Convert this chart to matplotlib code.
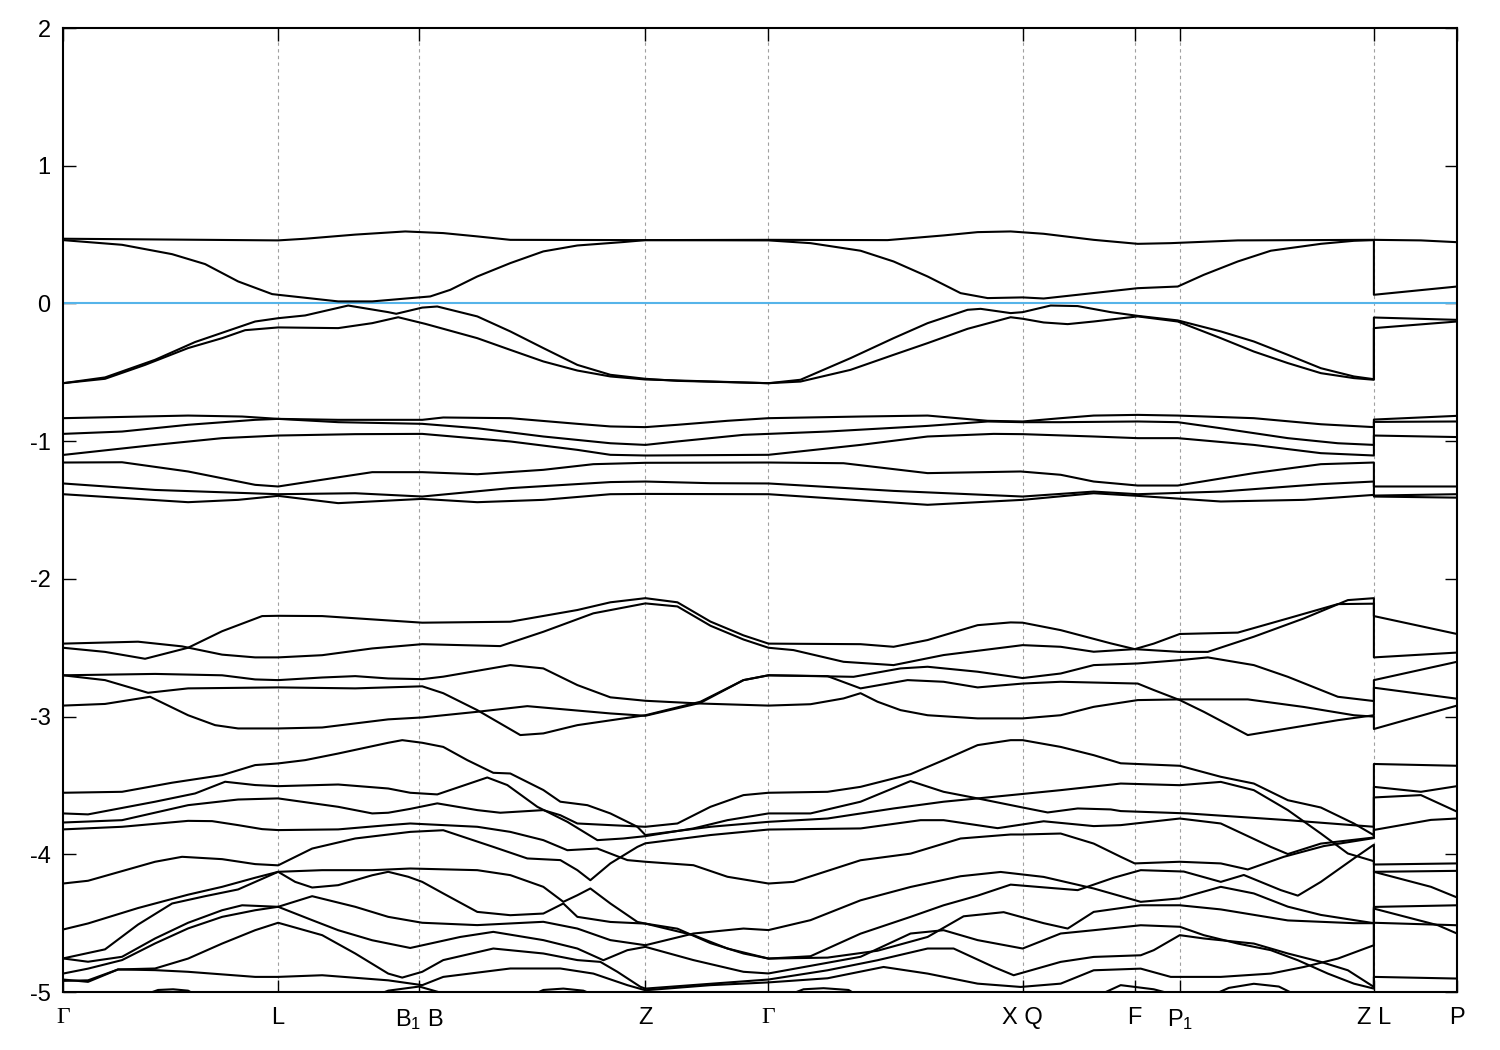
import matplotlib
matplotlib.use("Agg")
import matplotlib.pyplot as plt

plt.rcParams['font.family'] = ['Liberation Sans', 'DejaVu Sans']
plt.rcParams['mathtext.fontset'] = 'custom'
plt.rcParams['mathtext.rm'] = 'Liberation Sans'
plt.rcParams['mathtext.it'] = 'Liberation Sans'
plt.rcParams['axes.unicode_minus'] = False

# high symmetry points along the k path
kpts = [0, 215, 356, 582, 705, 959, 1071, 1116, 1310, 1393]
klabels = ['Γ', 'L', 'B$_1$ B', 'Z', 'Γ', 'X Q', 'F', 'P$_1$', 'Z L', 'P']

# bands near the Fermi level (k, E in eV)
band_t1 = [(0, .47), (215, .458), (242, .47), (292, .50), (342, .523), (380, .511), (414, .487), (447, .462),
           (582, .46), (705, .462), (824, .46), (880, .494), (914, .518), (947, .523), (980, .506), (1030, .462),
           (1074, .433), (1107, .438), (1174, .458), (1310, .462), (1357, .458), (1393, .445)]
band_t2 = [(0, .46), (59, .426), (109, .358), (142, .286), (175, .16), (209, .068), (215, .063), (275, .015),
           (309, .015), (359, .046), (367, .051), (387, .099), (414, .196), (447, .293), (480, .378), (514, .421),
           (560, .446), (582, .46), (705, .458), (747, .438), (797, .383), (830, .305), (864, .196), (897, .075),
           (924, .039), (959, .044), (980, .036), (1014, .063), (1074, .111), (1114, .123), (1140, .208),
           (1174, .305), (1207, .383), (1257, .433), (1290, .455), (1310, .46), (1310, .063), (1393, .123)]
band_v1 = [(0, -.579), (42, -.537), (92, -.409), (132, -.28), (165, -.198), (192, -.131), (215, -.107),
           (242, -.087), (285, -.015), (325, -.063), (333, -.075), (359, -.03), (374, -.022), (414, -.094),
           (447, -.203), (480, -.324), (514, -.446), (547, -.518), (582, -.547), (614, -.562), (705, -.579),
           (737, -.554), (787, -.397), (830, -.252), (864, -.143), (904, -.046), (917, -.039), (947, -.07),
           (959, -.063), (987, -.015), (1014, -.019), (1047, -.063), (1074, -.09), (1114, -.123), (1157, -.203),
           (1190, -.276), (1224, -.373), (1257, -.47), (1290, -.53), (1310, -.55), (1310, -.102), (1393, -.119)]
band_v2 = [(0, -.579), (42, -.547), (82, -.446), (125, -.324), (159, -.252), (182, -.194), (215, -.174),
           (275, -.179), (309, -.143), (335, -.10), (362, -.148), (414, -.252), (447, -.337), (480, -.421),
           (514, -.487), (547, -.53), (582, -.552), (705, -.579), (737, -.567), (787, -.482), (830, -.373),
           (864, -.288), (904, -.184), (947, -.10), (959, -.111), (980, -.138), (1004, -.15), (1030, -.131),
           (1074, -.094), (1114, -.131), (1157, -.252), (1190, -.349), (1224, -.433), (1257, -.506),
           (1290, -.542), (1310, -.554), (1310, -.179), (1393, -.131)]

# -0.8 .. -1.5 eV group
band_m1 = [(0, -.833), (125, -.814), (179, -.821), (215, -.838), (275, -.845), (359, -.845), (380, -.828),
           (447, -.833), (514, -.874), (547, -.893), (582, -.898), (614, -.881), (664, -.852), (705, -.833),
           (797, -.821), (864, -.814), (924, -.852), (959, -.857), (997, -.833), (1030, -.814), (1074, -.809),
           (1114, -.814), (1190, -.833), (1257, -.877), (1310, -.898), (1310, -.843), (1393, -.816)]
band_m2 = [(0, -.947), (59, -.93), (125, -.881), (192, -.845), (215, -.838), (275, -.862), (359, -.874),
           (414, -.906), (480, -.966), (547, -1.015), (582, -1.027), (614, -1.002), (680, -.954), (705, -.947),
           (764, -.93), (864, -.889), (924, -.857), (959, -.862), (997, -.862), (1074, -.857), (1114, -.862),
           (1157, -.906), (1224, -.978), (1274, -1.015), (1310, -1.027), (1310, -.86), (1393, -.857)]
band_m3 = [(0, -1.10), (92, -1.027), (159, -.978), (215, -.959), (292, -.949), (359, -.947), (447, -1.002),
           (514, -1.063), (547, -1.099), (582, -1.104), (705, -1.099), (797, -1.027), (864, -.966), (930, -.947),
           (959, -.949), (1030, -.966), (1074, -.978), (1114, -.978), (1190, -1.027), (1257, -1.087),
           (1310, -1.104), (1310, -.959), (1393, -.97)]
band_m4 = [(0, -1.155), (59, -1.153), (125, -1.22), (192, -1.317), (215, -1.329), (259, -1.28), (309, -1.225),
           (359, -1.225), (414, -1.24), (480, -1.208), (530, -1.167), (582, -1.157), (705, -1.155), (780, -1.16),
           (864, -1.232), (957, -1.22), (997, -1.244), (1030, -1.293), (1074, -1.322), (1114, -1.322),
           (1190, -1.232), (1257, -1.167), (1310, -1.155), (1310, -1.329), (1393, -1.329)]
band_m5 = [(0, -1.307), (92, -1.354), (215, -1.385), (292, -1.378), (359, -1.402), (447, -1.341), (547, -1.297),
           (582, -1.293), (647, -1.305), (705, -1.307), (830, -1.361), (959, -1.402), (1030, -1.366),
           (1074, -1.385), (1157, -1.366), (1257, -1.312), (1310, -1.293), (1310, -1.395), (1393, -1.385)]
band_m6 = [(0, -1.385), (125, -1.443), (175, -1.426), (215, -1.397), (275, -1.45), (359, -1.419), (414, -1.443),
           (480, -1.426), (547, -1.385), (582, -1.383), (705, -1.385), (864, -1.462), (959, -1.426),
           (1030, -1.378), (1074, -1.397), (1157, -1.438), (1240, -1.426), (1310, -1.390), (1310, -1.402),
           (1393, -1.41)]

# -2.1 .. -3.1 eV group
band_g1 = [(0, -2.50), (42, -2.53), (82, -2.58), (125, -2.50), (159, -2.38), (199, -2.27), (215, -2.268),
           (259, -2.27), (359, -2.318), (447, -2.311), (514, -2.226), (547, -2.17), (582, -2.14), (614, -2.17),
           (647, -2.31), (680, -2.41), (705, -2.47), (797, -2.474), (830, -2.493), (864, -2.444), (914, -2.336),
           (947, -2.316), (959, -2.318), (997, -2.372), (1047, -2.468), (1071, -2.51), (1090, -2.47),
           (1116, -2.40), (1174, -2.39), (1224, -2.287), (1274, -2.183), (1310, -2.18), (1310, -2.57),
           (1393, -2.535)]
band_g2 = [(0, -2.47), (75, -2.456), (119, -2.49), (159, -2.55), (192, -2.57), (215, -2.57), (259, -2.554),
           (309, -2.505), (359, -2.474), (437, -2.488), (480, -2.384), (530, -2.25), (582, -2.178), (614, -2.20),
           (647, -2.34), (680, -2.44), (705, -2.50), (730, -2.517), (780, -2.602), (830, -2.626), (880, -2.553),
           (959, -2.481), (997, -2.493), (1030, -2.529), (1071, -2.51), (1116, -2.53), (1144, -2.53),
           (1190, -2.42), (1240, -2.287), (1284, -2.154), (1310, -2.14), (1310, -2.27), (1393, -2.40)]
band_h1 = [(0, -2.70), (92, -2.69), (159, -2.70), (192, -2.73), (215, -2.735), (259, -2.716), (292, -2.706),
           (325, -2.723), (359, -2.728), (380, -2.71), (447, -2.626), (480, -2.65), (514, -2.771), (547, -2.86),
           (582, -2.885), (637, -2.905), (705, -2.92), (747, -2.91), (780, -2.868), (797, -2.83), (814, -2.892),
           (837, -2.953), (864, -2.99), (914, -3.013), (959, -3.013), (997, -2.99), (1030, -2.929),
           (1074, -2.88), (1116, -2.875), (1184, -2.875), (1240, -2.93), (1290, -2.99), (1310, -3.0),
           (1310, -3.09), (1393, -2.92)]
band_h2 = [(0, -2.70), (42, -2.735), (85, -2.827), (125, -2.795), (215, -2.788), (292, -2.795), (359, -2.78),
           (380, -2.83), (414, -2.953), (457, -3.134), (480, -3.122), (514, -3.062), (582, -2.99), (637, -2.892),
           (680, -2.735), (705, -2.70), (764, -2.706), (797, -2.795), (844, -2.735), (880, -2.747),
           (914, -2.788), (959, -2.76), (997, -2.747), (1074, -2.76), (1090, -2.807), (1116, -2.88),
           (1140, -2.965), (1184, -3.134), (1224, -3.086), (1274, -3.026), (1310, -2.99), (1310, -2.79),
           (1393, -2.87)]
band_h3 = [(0, -2.92), (42, -2.908), (87, -2.856), (125, -2.99), (152, -3.062), (175, -3.086), (215, -3.086),
           (259, -3.079), (325, -3.02), (359, -3.006), (414, -2.965), (464, -2.924), (547, -2.977),
           (582, -2.994), (637, -2.9), (680, -2.735), (705, -2.70), (790, -2.711), (837, -2.65), (864, -2.638),
           (914, -2.674), (959, -2.72), (997, -2.687), (1030, -2.626), (1074, -2.614), (1116, -2.59),
           (1144, -2.57), (1190, -2.626), (1224, -2.711), (1274, -2.856), (1310, -2.887), (1310, -2.735),
           (1393, -2.602)]

# lower bands, -3.2 .. -5 eV
band_l1 = [(0, -3.769), (59, -3.752), (125, -3.643), (175, -3.602), (215, -3.594), (275, -3.655), (309, -3.703),
           (325, -3.698), (347, -3.67), (374, -3.63), (414, -3.679), (437, -3.698), (480, -3.679), (497, -3.716),
           (514, -3.776), (547, -3.788), (582, -3.80), (614, -3.776), (647, -3.655), (680, -3.57), (705, -3.553),
           (764, -3.546), (797, -3.51), (847, -3.418), (880, -3.316), (914, -3.207), (947, -3.171),
           (959, -3.171), (997, -3.22), (1030, -3.28), (1057, -3.339), (1116, -3.357), (1157, -3.437),
           (1190, -3.486), (1224, -3.607), (1257, -3.66), (1290, -3.776), (1310, -3.861), (1310, -3.51),
           (1357, -3.546), (1393, -3.505)]
band_l2 = [(0, -3.703), (25, -3.71), (92, -3.618), (132, -3.558), (162, -3.473), (192, -3.497), (215, -3.505),
           (275, -3.493), (325, -3.522), (347, -3.553), (374, -3.565), (424, -3.442), (444, -3.497),
           (474, -3.655), (504, -3.764), (534, -3.897), (560, -3.885), (582, -3.868), (630, -3.812),
           (664, -3.752), (705, -3.703), (747, -3.703), (797, -3.618), (847, -3.468), (880, -3.546),
           (914, -3.594), (959, -3.66), (984, -3.696), (1014, -3.667), (1047, -3.674), (1057, -3.686),
           (1124, -3.703), (1224, -3.752), (1310, -3.80), (1310, -3.344), (1393, -3.357)]
band_l3 = [(0, -3.553), (59, -3.546), (109, -3.48), (159, -3.425), (192, -3.352), (215, -3.34), (242, -3.316),
           (275, -3.268), (325, -3.19), (339, -3.171), (359, -3.19), (380, -3.22), (404, -3.316), (430, -3.408),
           (447, -3.413), (480, -3.533), (497, -3.618), (524, -3.643), (547, -3.703), (574, -3.8), (582, -3.86),
           (647, -3.80), (705, -3.764), (764, -3.74), (830, -3.667), (880, -3.618), (914, -3.594),
           (964, -3.558), (997, -3.534), (1057, -3.486), (1116, -3.498), (1157, -3.474), (1190, -3.534),
           (1224, -3.679), (1257, -3.849), (1284, -3.994), (1310, -4.05), (1310, -4.127), (1367, -4.236),
           (1393, -4.313)]
band_l4 = [(0, -4.212), (25, -4.192), (92, -4.054), (119, -4.018), (159, -4.035), (192, -4.071), (215, -4.08),
           (225, -4.044), (249, -3.958), (292, -3.885), (347, -3.837), (380, -3.825), (430, -3.946),
           (464, -4.03), (497, -4.042), (514, -4.115), (527, -4.188), (547, -4.066), (574, -3.946),
           (582, -3.92), (647, -3.86), (705, -3.82), (797, -3.812), (857, -3.752), (880, -3.752), (934, -3.81),
           (980, -3.76), (1030, -3.795), (1057, -3.788), (1116, -3.74), (1157, -3.776), (1207, -3.946),
           (1224, -3.998), (1257, -3.922), (1310, -3.878), (1310, -3.587), (1357, -3.57), (1393, -3.69)]
band_l5 = [(0, -3.819), (59, -3.8), (125, -3.757), (149, -3.759), (175, -3.788), (199, -3.817), (215, -3.824),
           (275, -3.819), (325, -3.788), (347, -3.776), (414, -3.8), (447, -3.837), (480, -3.897), (504, -3.97),
           (534, -3.958), (564, -4.042), (582, -4.054), (630, -4.079), (664, -4.163), (705, -4.212),
           (730, -4.2), (797, -4.043), (847, -3.995), (897, -3.885), (947, -3.856), (959, -3.856),
           (997, -3.849), (1030, -3.922), (1057, -4.018), (1071, -4.066), (1116, -4.054), (1157, -4.066),
           (1184, -4.11), (1220, -4.018), (1260, -3.94), (1310, -3.882), (1310, -3.823), (1367, -3.75),
           (1393, -3.74)]
band_l6 = [(0, -4.756), (25, -4.78), (59, -4.744), (92, -4.611), (125, -4.497), (159, -4.406), (179, -4.37),
           (215, -4.381), (249, -4.304), (292, -4.381), (325, -4.454), (359, -4.497), (414, -4.514),
           (480, -4.49), (514, -4.539), (547, -4.623), (582, -4.66), (630, -4.575), (680, -4.539),
           (705, -4.55), (747, -4.478), (797, -4.334), (847, -4.237), (897, -4.159), (937, -4.128),
           (980, -4.164), (1030, -4.248), (1077, -4.345), (1116, -4.32), (1157, -4.236), (1190, -4.284),
           (1224, -4.38), (1257, -4.44), (1310, -4.50), (1310, -4.127), (1393, -4.12)]
band_l7 = [(0, -4.546), (25, -4.502), (75, -4.39), (125, -4.293), (159, -4.236), (192, -4.17), (215, -4.127),
           (259, -4.115), (309, -4.115), (347, -4.103), (414, -4.115), (447, -4.151), (480, -4.236),
           (500, -4.345), (514, -4.297), (527, -4.248), (547, -4.357), (574, -4.491), (582, -4.503),
           (630, -4.587), (664, -4.684), (705, -4.757), (747, -4.74), (797, -4.576), (847, -4.454),
           (880, -4.37), (914, -4.30), (947, -4.22), (980, -4.24), (1014, -4.26), (1050, -4.17), (1077, -4.115),
           (1120, -4.125), (1157, -4.2), (1180, -4.15), (1217, -4.26), (1234, -4.3), (1257, -4.2),
           (1290, -4.03), (1310, -3.93), (1310, -4.074), (1393, -4.066)]
band_l8 = [(0, -4.756), (42, -4.69), (75, -4.51), (109, -4.357), (142, -4.304), (175, -4.255), (215, -4.127),
           (232, -4.2), (249, -4.241), (275, -4.224), (309, -4.152), (325, -4.127), (345, -4.163), (359, -4.2),
           (380, -4.284), (414, -4.418), (447, -4.442), (480, -4.43), (500, -4.357), (514, -4.454),
           (547, -4.491), (582, -4.503), (614, -4.54), (647, -4.645), (680, -4.72), (705, -4.757),
           (764, -4.75), (814, -4.70), (864, -4.60), (900, -4.45), (940, -4.42), (980, -4.50), (1004, -4.539),
           (1030, -4.418), (1077, -4.37), (1116, -4.37), (1157, -4.4), (1224, -4.48), (1290, -4.50),
           (1310, -4.50), (1310, -4.382), (1393, -4.37)]
band_l9 = [(0, -4.866), (25, -4.83), (59, -4.768), (92, -4.647), (125, -4.538), (159, -4.454), (192, -4.406),
           (215, -4.381), (249, -4.478), (275, -4.551), (309, -4.624), (347, -4.68), (397, -4.6), (430, -4.563),
           (480, -4.623), (514, -4.684), (540, -4.769), (564, -4.696), (582, -4.672), (630, -4.768),
           (680, -4.853), (705, -4.865), (797, -4.744), (847, -4.575), (880, -4.551), (914, -4.623),
           (959, -4.684), (997, -4.575), (1030, -4.551), (1077, -4.515), (1116, -4.526), (1140, -4.587),
           (1174, -4.648), (1207, -4.696), (1234, -4.769), (1264, -4.866), (1290, -4.939), (1310, -4.975),
           (1310, -4.89), (1393, -4.902)]
band_l10 = [(0, -4.909), (25, -4.926), (55, -4.836), (92, -4.829), (125, -4.757), (159, -4.648), (192, -4.551),
            (215, -4.497), (259, -4.587), (292, -4.72), (325, -4.866), (339, -4.895), (359, -4.853),
            (380, -4.768), (430, -4.684), (480, -4.72), (514, -4.768), (537, -4.781), (554, -4.853),
            (577, -4.962), (582, -4.975), (647, -4.94), (705, -4.909), (764, -4.842), (814, -4.769),
            (864, -4.684), (890, -4.684), (930, -4.818), (950, -4.878), (997, -4.781), (1030, -4.745),
            (1077, -4.733), (1090, -4.696), (1116, -4.587), (1140, -4.611), (1190, -4.648), (1224, -4.72),
            (1257, -4.781), (1284, -4.842), (1310, -4.963), (1310, -4.497), (1393, -4.515)]
band_l11 = [(0, -4.919), (25, -4.915), (55, -4.836), (92, -4.841), (125, -4.853), (192, -4.89), (215, -4.89),
            (259, -4.878), (325, -4.915), (359, -4.95), (380, -4.89), (447, -4.829), (497, -4.829),
            (530, -4.866), (564, -4.95), (582, -4.987), (647, -4.95), (705, -4.93), (764, -4.9), (820, -4.818),
            (864, -4.866), (914, -4.939), (957, -4.963), (997, -4.939), (1030, -4.842), (1077, -4.83),
            (1107, -4.89), (1157, -4.89), (1207, -4.866), (1240, -4.818), (1274, -4.757), (1310, -4.66),
            (1310, -4.394), (1374, -4.515), (1393, -4.575)]

# pieces of bands that only just reach above -5 eV
edge_1 = [(70, -5.05), (95, -4.985), (110, -4.98), (125, -4.99), (140, -5.05)]
edge_2 = [(300, -5.06), (325, -4.99), (356, -4.96), (380, -5.01), (400, -5.06)]
edge_3 = [(460, -5.05), (480, -4.985), (500, -4.975), (520, -4.99), (540, -5.05)]
edge_4 = [(715, -5.05), (740, -4.98), (760, -4.972), (785, -4.985), (800, -5.05)]
edge_5 = [(1030, -5.04), (1057, -4.95), (1090, -4.98), (1116, -5.03)]
edge_6 = [(1140, -5.05), (1165, -4.97), (1190, -4.94), (1215, -4.96), (1240, -5.05)]

bands = [band_t1, band_t2, band_v1, band_v2, band_m1, band_m2, band_m3, band_m4, band_m5, band_m6,
         band_g1, band_g2, band_h1, band_h2, band_h3,
         band_l1, band_l2, band_l3, band_l4, band_l5, band_l6, band_l7, band_l8, band_l9, band_l10, band_l11,
         edge_1, edge_2, edge_3, edge_4, edge_5, edge_6]

fig = plt.figure(figsize=(15, 10.5), dpi=100)
ax = fig.add_axes([0.042, 0.0552, 0.9293, 0.9181])

for k in kpts[1:-1]:
    ax.axvline(k, color='#a0a0a0', lw=0.8, ls=(0, (3, 3)), zorder=1)
ax.axhline(0, color='#56b4e9', lw=1.5, zorder=2)

for b in bands:
    ks = [p[0] for p in b]
    es = [p[1] for p in b]
    ax.plot(ks, es, color='black', lw=1.5, zorder=3)

ax.set_xlim(kpts[0], kpts[-1])
ax.set_ylim(-5, 2)
ax.set_yticks(range(-5, 3))
ax.set_xticks(kpts)
ax.set_xticklabels(klabels)
for lbl in ax.get_xticklabels():
    if lbl.get_text() == 'Γ':
        lbl.set_fontfamily('Liberation Serif')
ax.tick_params(axis='both', direction='in', length=9, width=1, labelsize=17,
               right=True, top=True)
ax.tick_params(axis='x', pad=11)
ax.tick_params(axis='y', pad=9)
for s in ax.spines.values():
    s.set_linewidth(1.5)

fig.savefig('out.png', dpi=100)
